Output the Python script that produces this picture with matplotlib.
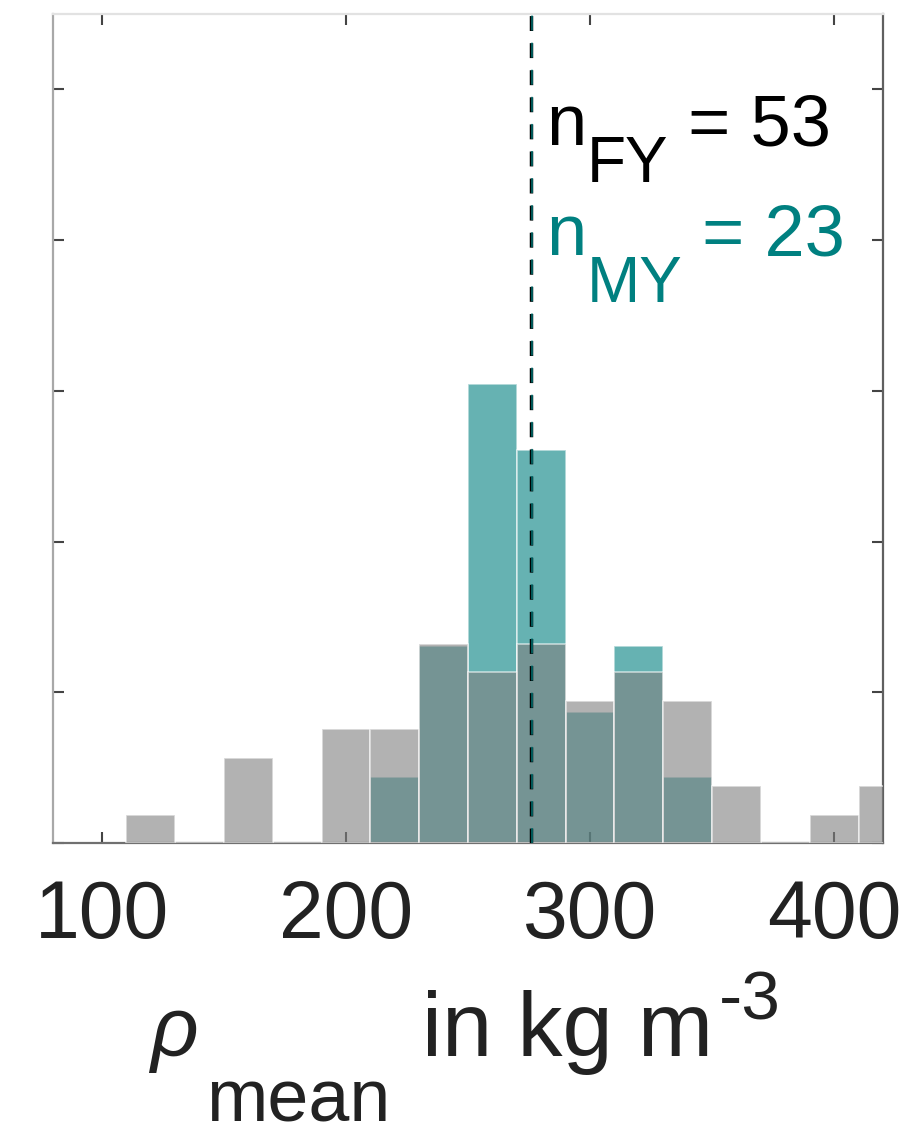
import matplotlib
matplotlib.use("Agg")
import matplotlib.pyplot as plt
import numpy as np

# ---- data ----
bin_edges = [110, 130, 150, 170, 190, 210, 230, 250, 270, 290, 310, 330, 350, 370, 390, 410, 430]
fy_counts = [1, 0, 3, 0, 4, 4, 7, 6, 7, 5, 6, 5, 2, 0, 1, 2]
my_counts = [0, 0, 0, 0, 0, 1, 3, 7, 6, 2, 3, 1, 0, 0, 0, 0]
n_fy = 53
n_my = 23
mean_fy = 276.0
mean_my = 276.2
xticks = [100, 200, 300, 400]
yticks = [0, 10, 20, 30, 40, 50]

FONT = ["Liberation Sans", "DejaVu Sans"]
plt.rcParams["font.family"] = FONT

W, H = 908, 1135
fig = plt.figure(figsize=(W / 100, H / 100), dpi=100)
ax = fig.add_axes([53 / W, 1 - 843 / H, 830 / W, 829 / H])

edges = np.array(bin_edges, dtype=float)
lefts = edges[:-1]
widths = np.diff(edges)
fy_pct = np.array(fy_counts) / n_fy * 100
my_pct = np.array(my_counts) / n_my * 100

ax.bar(lefts, my_pct, width=widths, align="edge", color=(0, 0.5, 0.5), alpha=0.6,
       edgecolor="white", linewidth=1.2, zorder=2)
ax.bar(lefts, fy_pct, width=widths, align="edge", color=(0.5, 0.5, 0.5), alpha=0.6,
       edgecolor="white", linewidth=1.2, zorder=3)

ax.axvline(mean_fy, color="black", linestyle=(0, (4.3, 3.5)), linewidth=2.5, zorder=4)
ax.axvline(mean_my, color=(0, 0.45, 0.45), linestyle=(0, (4.3 * 2.5 / 1.1, 3.5 * 2.5 / 1.1)),
           linewidth=1.1, zorder=5)

ax.set_xlim(80, 420)
ax.set_ylim(0, 55)
ax.set_xticks(xticks)
ax.set_xticklabels([str(t) for t in xticks], fontsize=58, color="#222222")
ax.set_yticks(yticks)
ax.set_yticklabels([])
ax.tick_params(axis="both", direction="in", length=8, width=1.5, color="#444444",
               top=True, right=True, pad=26)

ax.spines["top"].set_color("#e2e2e2")
ax.spines["left"].set_color("#a8a8a8")
ax.spines["bottom"].set_color("#707070")
ax.spines["right"].set_color("#606060")
for s in ax.spines.values():
    s.set_linewidth(1.6)

fig.canvas.draw()
renderer = fig.canvas.get_renderer()


def chain(pieces, x0, base):
    """pieces: (text, dy_px (positive = down), size, color, style, gap_px)"""
    x = x0
    for txt, dy, size, color, style, gap in pieces:
        x += gap
        t = fig.text(x / W, 1 - (base + dy) / H, txt, fontsize=size, color=color,
                     style=style, ha="left", va="baseline", family=FONT)
        bb = t.get_window_extent(renderer=renderer)
        x += bb.width


teal = (0, 0.5, 0.5)
chain([("n", 0, 52, "black", "normal", 0),
       ("FY", 37, 46, "black", "normal", 0),
       (" = 53", 0, 52, "black", "normal", 0)], 546, 145)
chain([("n", 0, 52, teal, "normal", 0),
       ("MY", 47, 46, teal, "normal", 0),
       (" = 23", 0, 52, teal, "normal", 0)], 546, 255)

# x label
chain([("\u03c1", 0, 60, "#222222", "italic", 0),
       ("mean", 66, 53, "#222222", "normal", 8),
       ("in kg m", 0, 65, "#222222", "normal", 32),
       ("-3", -36, 50, "#222222", "normal", 6)], 150, 1056)

fig.savefig("out.png", dpi=100)
